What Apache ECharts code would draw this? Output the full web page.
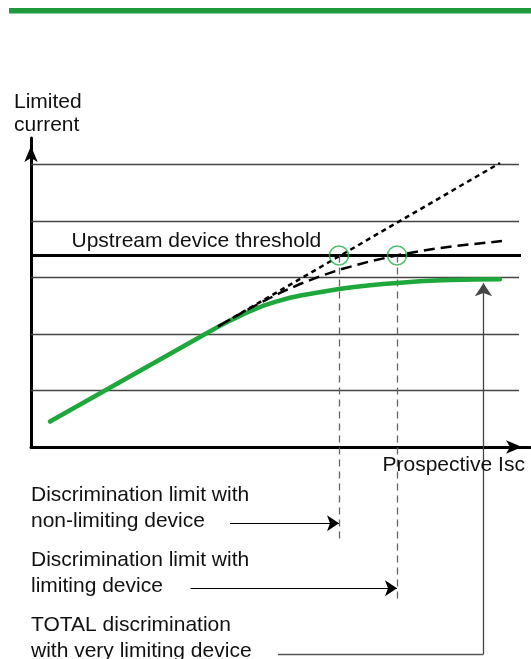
<!DOCTYPE html>
<html><head><meta charset="utf-8">
<script src="https://cdn.jsdelivr.net/npm/echarts@6/dist/echarts.min.js"></script>
<style>html,body{margin:0;padding:0;background:#fff}#c{width:531px;height:659px}</style>
</head><body><div id="c"></div>
<script>
// x: prospective short-circuit current (arbitrary units), y: limited current (one unit per grid step)
const gridLevels = [1, 2, 3, 4, 5];
const gridEndX = 97.6;
const thresholdY = 3.39;
const thresholdEndX = 98;
const greenX = [3.8, 19.5, 35.2, 37.4, 39.8, 43.0, 46.2, 49.0, 51.8, 54.2, 56.8, 59.2, 61.6, 64.6, 67.8, 70.4, 73.2, 75.8, 77.8, 80.8, 83.8, 88.8, 93.8];
const greenY = [0.451, 1.235, 2.018, 2.126, 2.237, 2.372, 2.492, 2.573, 2.641, 2.687, 2.726, 2.761, 2.795, 2.830, 2.862, 2.883, 2.903, 2.920, 2.933, 2.945, 2.954, 2.963, 2.967];
const dottedX = [37.4, 93.8];
const dottedY = [2.133, 5.027];
const dashedX = [37.4, 41.8, 45.8, 49.8, 53.8, 57.8, 61.8, 67.8, 73.8, 79.8, 85.8, 94.2];
const dashedY = [2.133, 2.356, 2.549, 2.727, 2.885, 3.021, 3.140, 3.286, 3.403, 3.496, 3.567, 3.645];
const limitX = [61.6, 73.2];
const limitBottomY = [-1.63, -2.68];
const arrowY = [-1.35, -2.50];
const arrowStartX = [39.8, 31.9];
const totalX = 90.5, totalTopY = 2.90, totalBottomY = -3.67, totalStartX = 49.4;

const axisLabelTexts = ['Limited', 'current'];
const thresholdText = 'Upstream device threshold';
const xAxisText = 'Prospective Isc';
const noteTexts = ['Discrimination limit with', 'non-limiting device', 'Discrimination limit with', 'limiting device', 'TOTAL discrimination', 'with very limiting device'];

const GREEN = '#1ea83c';
const FONT = '21px "Liberation Sans", Arial, sans-serif';
const zip = (a, b) => a.map((v, i) => [v, b[i]]);

const chart = echarts.init(document.getElementById('c'), null, {renderer: 'canvas'});

function txt(text, x, y) {
  return {type: 'text', x: x, y: y, z: 100,
    style: {text: text, font: FONT, fill: '#111', verticalAlign: 'middle', textAlign: 'left'}};
}

const option = {
  animation: false,
  backgroundColor: '#fff',
  grid: {left: 31, right: 1, top: 138, bottom: 212},
  xAxis: {type: 'value', min: 0, max: 99.8,
    axisLine: {show: true, lineStyle: {color: '#000', width: 3}, symbol: ['none', 'arrow'], symbolSize: [10, 16], symbolOffset: [0, -8]},
    axisTick: {show: false}, axisLabel: {show: false}, splitLine: {show: false}},
  yAxis: {type: 'value', min: 0, max: 5.469,
    axisLine: {show: true, lineStyle: {color: '#000', width: 3}, symbol: ['none', 'arrow'], symbolSize: [10, 16], symbolOffset: [0, -8]},
    axisTick: {show: false}, axisLabel: {show: false}, splitLine: {show: false}},
  graphic: [
    {type: 'rect', shape: {x: 9, y: 8, width: 522, height: 5.5}, style: {fill: '#1f9a3c'}, z: 100},
    txt(axisLabelTexts[0], 14, 102),
    txt(axisLabelTexts[1], 14, 125),
    txt(thresholdText, 71.5, 241.5),
    txt(xAxisText, 382.5, 465),
    txt(noteTexts[0], 31, 495.5),
    txt(noteTexts[1], 31, 521.5),
    txt(noteTexts[2], 31, 560),
    txt(noteTexts[3], 31, 586),
    txt(noteTexts[4], 31, 625),
    txt(noteTexts[5], 31, 651)
  ],
  series: [
    {type: 'lines', coordinateSystem: 'cartesian2d', silent: true, z: 1,
      lineStyle: {color: '#444', width: 1.3, opacity: 1},
      data: gridLevels.map(y => ({coords: [[0, y], [gridEndX, y]]}))},
    {type: 'lines', coordinateSystem: 'cartesian2d', silent: true, z: 2,
      lineStyle: {color: '#000', width: 3, opacity: 1},
      data: [{coords: [[0, thresholdY], [thresholdEndX, thresholdY]]}]},
    {type: 'lines', coordinateSystem: 'cartesian2d', silent: true, z: 2, clip: false,
      lineStyle: {color: '#666', width: 1.3, type: [7, 5], opacity: 1},
      data: limitX.map((x, i) => ({coords: [[x, thresholdY], [x, limitBottomY[i]]]}))},
    {type: 'lines', coordinateSystem: 'cartesian2d', silent: true, z: 2, clip: false,
      symbol: ['none', 'arrow'], symbolSize: [5, 12],
      lineStyle: {color: '#000', width: 1, opacity: 1},
      data: limitX.map((x, i) => ({coords: [[arrowStartX[i], arrowY[i]], [x, arrowY[i]]]}))},
    {type: 'lines', coordinateSystem: 'cartesian2d', silent: true, z: 2, clip: false,
      lineStyle: {color: '#555', width: 1.3, opacity: 1},
      data: [{coords: [[totalStartX, totalBottomY], [totalX, totalBottomY]]}]},
    {type: 'lines', coordinateSystem: 'cartesian2d', silent: true, z: 2, clip: false,
      symbol: ['none', 'arrow'], symbolSize: [7, 13],
      lineStyle: {color: '#444', width: 1.3, opacity: 1},
      data: [{coords: [[totalX, totalBottomY], [totalX, totalTopY]]}]},
    {type: 'line', name: 'very limiting', z: 3, data: zip(greenX, greenY), smooth: false,
      showSymbol: false, lineStyle: {color: GREEN, width: 4.5, cap: 'round', join: 'round'}, silent: true},
    {type: 'line', name: 'non-limiting', z: 4, data: zip(dottedX, dottedY),
      showSymbol: false, lineStyle: {color: '#000', width: 2.5, type: [5, 4]}, silent: true},
    {type: 'line', name: 'limiting', z: 4, data: zip(dashedX, dashedY), smooth: false,
      showSymbol: false, lineStyle: {color: '#000', width: 2.5, type: [11, 6], join: 'round'}, silent: true},
    {type: 'scatter', z: 5, symbol: 'circle', symbolSize: 19, silent: true,
      itemStyle: {color: 'rgba(0,0,0,0)', borderColor: '#22b14c', borderWidth: 1.6},
      data: limitX.map(x => [x, thresholdY])}
  ]
};
chart.setOption(option);
</script></body></html>
